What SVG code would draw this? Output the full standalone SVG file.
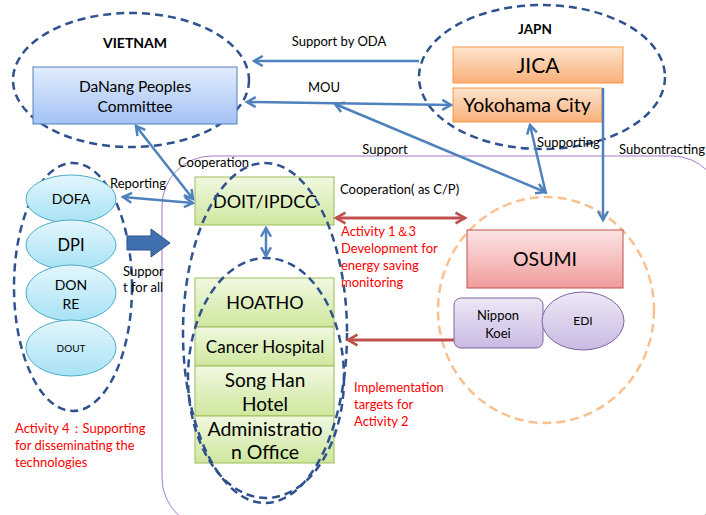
<svg xmlns="http://www.w3.org/2000/svg" width="706" height="515" viewBox="0 0 706 515">
<defs>
<style>
text{font-family:Lato,"Liberation Sans",sans-serif;fill:#000}
.blk{font-size:13px}
.red{font-size:13px;fill:#FF0000}
.grp{fill:none;stroke:#2F528F;stroke-width:2.5;stroke-dasharray:8 5}
.ba{fill:none;stroke:#4F81BD;stroke-width:2.5}
.ra{fill:none;stroke:#C0504D;stroke-width:3}
.green{fill:url(#gG);stroke:#9BBB59;stroke-width:1}
.lb{fill:url(#gL);stroke:#4BACC6;stroke-width:1}
</style>
<linearGradient id="gB" x1="0" y1="0" x2="0" y2="1"><stop offset="0" stop-color="#E2ECFC"/><stop offset="1" stop-color="#A3C2F5"/></linearGradient>
<linearGradient id="gO" x1="0" y1="0" x2="0" y2="1"><stop offset="0" stop-color="#FDE4CE"/><stop offset="1" stop-color="#F9B07A"/></linearGradient>
<linearGradient id="gG" x1="0" y1="0" x2="0" y2="1"><stop offset="0" stop-color="#F0F8E0"/><stop offset="1" stop-color="#CEE79E"/></linearGradient>
<linearGradient id="gL" x1="0" y1="0" x2="0" y2="1"><stop offset="0" stop-color="#E3F6FC"/><stop offset="1" stop-color="#A7E2F5"/></linearGradient>
<linearGradient id="gR" x1="0" y1="0" x2="0" y2="1"><stop offset="0" stop-color="#FCE4E4"/><stop offset="1" stop-color="#F09C9C"/></linearGradient>
<linearGradient id="gP" x1="0" y1="0" x2="0" y2="1"><stop offset="0" stop-color="#EEE8F6"/><stop offset="1" stop-color="#C9BAE2"/></linearGradient>
<marker id="ab" viewBox="0 0 10 10" refX="8" refY="5" markerWidth="5" markerHeight="5" orient="auto-start-reverse"><path d="M1,1 L8,5 L1,9" fill="none" stroke="#4F81BD" stroke-width="2"/></marker>
<marker id="ar" viewBox="0 0 10 10" refX="8" refY="5" markerWidth="4.5" markerHeight="4.5" orient="auto-start-reverse"><path d="M1,1 L8,5 L1,9" fill="none" stroke="#C0504D" stroke-width="2"/></marker>
</defs>

<!-- background region -->
<rect x="162" y="156" width="560" height="372" rx="50" ry="50" fill="none" stroke="#A77BCA" stroke-width="1"/>

<g id="vietnam">
<ellipse class="grp" cx="131" cy="80" rx="118" ry="67"/>
<text x="135" y="48" font-size="14" font-weight="bold" text-anchor="middle">VIETNAM</text>
</g>
<g id="danang">
<rect x="33" y="67" width="204" height="57" fill="url(#gB)" stroke="#4F81BD"/>
<text x="135" y="92" font-size="15.5" text-anchor="middle">DaNang Peoples</text>
<text x="135" y="112" font-size="15.5" text-anchor="middle">Committee</text>
</g>
<g id="japan">
<ellipse class="grp" cx="542" cy="77" rx="123" ry="72"/>
<text x="535" y="34" font-size="13.5" font-weight="bold" text-anchor="middle">JAPN</text>
</g>
<g id="jica">
<rect x="453" y="47" width="170" height="36" fill="url(#gO)" stroke="#F79646"/>
<text x="538" y="73" font-size="21" text-anchor="middle">JICA</text>
</g>
<g id="yokohama">
<rect x="453" y="88" width="149" height="34" fill="url(#gO)" stroke="#F79646"/>
<text x="527" y="112" font-size="19.5" text-anchor="middle">Yokohama City</text>
</g>

<g id="local-group">
<ellipse class="grp" cx="73" cy="287" rx="59" ry="124"/>
</g>
<g id="dofa"><ellipse class="lb" cx="71" cy="199" rx="45" ry="24"/><text x="71" y="204" font-size="14" text-anchor="middle">DOFA</text></g>
<g id="dpi"><ellipse class="lb" cx="71" cy="245" rx="45" ry="25"/><text x="71" y="251" font-size="16.5" text-anchor="middle">DPI</text></g>
<g id="donre"><ellipse class="lb" cx="71" cy="293" rx="45" ry="28"/><text x="71" y="290" font-size="14" text-anchor="middle">DON</text><text x="71" y="309" font-size="14" text-anchor="middle">RE</text></g>
<g id="dout"><ellipse class="lb" cx="71" cy="348" rx="45" ry="28"/><text x="71" y="352" font-size="10" text-anchor="middle">DOUT</text></g>

<g id="doit">
<rect class="green" x="195" y="177" width="139" height="48"/>
<text x="265" y="208" font-size="18" text-anchor="middle">DOIT/IPDCC</text>
</g>
<g id="hoatho">
<rect class="green" x="195" y="278" width="139" height="49"/>
<text x="265" y="309" font-size="18" text-anchor="middle">HOATHO</text>
</g>
<g id="cancer">
<rect class="green" x="195" y="327" width="139" height="39"/>
<text x="265" y="353" font-size="17" text-anchor="middle">Cancer Hospital</text>
</g>
<g id="songhan">
<rect class="green" x="195" y="366" width="139" height="50"/>
<text x="265" y="387" font-size="19" text-anchor="middle">Song Han</text>
<text x="265" y="411" font-size="19" text-anchor="middle">Hotel</text>
</g>
<g id="admin">
<rect class="green" x="195" y="416" width="139" height="47"/>
<text x="265" y="436" font-size="19.5" text-anchor="middle">Administratio</text>
<text x="265" y="459" font-size="19.5" text-anchor="middle">n Office</text>
</g>
<g id="doit-group"><ellipse class="grp" cx="265" cy="333" rx="82" ry="170"/></g>
<g id="target-group"><ellipse class="grp" cx="266" cy="378" rx="78" ry="120"/></g>

<g id="osumi-group"><ellipse cx="546" cy="310" rx="108" ry="113" fill="none" stroke="#FAC090" stroke-width="2.5" stroke-dasharray="9 5"/></g>
<g id="osumi">
<rect x="467" y="230" width="156" height="58" fill="url(#gR)" stroke="#C0504D"/>
<text x="545" y="266" font-size="19.5" text-anchor="middle">OSUMI</text>
</g>
<g id="nippon">
<rect x="454" y="298" width="89" height="50" rx="7" fill="url(#gP)" stroke="#8064A2"/>
<text x="498" y="320" font-size="13" text-anchor="middle">Nippon</text>
<text x="498" y="338" font-size="13" text-anchor="middle">Koei</text>
</g>
<g id="edi">
<ellipse cx="583" cy="321" rx="41" ry="29" fill="url(#gP)" stroke="#8064A2"/>
<text x="583" y="325" font-size="12" text-anchor="middle">EDI</text>
</g>

<g id="connectors">
<line class="ba" x1="419" y1="61" x2="254" y2="61" marker-end="url(#ab)"/>
<line class="ba" x1="247" y1="102" x2="451" y2="105" marker-start="url(#ab)" marker-end="url(#ab)"/>
<line class="ba" x1="335" y1="104" x2="545" y2="192" marker-start="url(#ab)" marker-end="url(#ab)"/>
<line class="ba" x1="546" y1="194" x2="530" y2="125" marker-end="url(#ab)"/>
<line class="ba" x1="603" y1="88" x2="603" y2="220" marker-end="url(#ab)"/>
<line class="ba" x1="136" y1="126" x2="193" y2="199" marker-start="url(#ab)" marker-end="url(#ab)"/>
<line class="ba" x1="123" y1="197" x2="193" y2="203" marker-start="url(#ab)" marker-end="url(#ab)"/>
<line class="ba" x1="266" y1="228" x2="266" y2="256" marker-start="url(#ab)" marker-end="url(#ab)"/>
<path d="M127,236 L151,236 L151,229 L170,243 L151,257 L151,250 L127,250 Z" fill="#3F6FAF" stroke="#2F528F" stroke-width="1"/>
<line class="ra" x1="336" y1="218" x2="465" y2="218" marker-start="url(#ar)" marker-end="url(#ar)"/>
<line class="ra" x1="454" y1="340" x2="348" y2="340" marker-end="url(#ar)"/>
</g>

<g id="labels">
<text class="blk" x="339" y="46" text-anchor="middle">Support by ODA</text>
<text class="blk" x="324" y="92" text-anchor="middle">MOU</text>
<text class="blk" x="385" y="154" text-anchor="middle">Support</text>
<text class="blk" x="537" y="147">Supporting</text>
<text class="blk" x="619" y="154">Subcontracting</text>
<text class="blk" x="178" y="167">Cooperation</text>
<text class="blk" x="110" y="188">Reporting</text>
<text class="blk" x="123" y="276">Suppor</text>
<text class="blk" x="123" y="292">t for all</text>
<text class="blk" x="340" y="194">Cooperation( as C/P)</text>
<text class="red" x="341" y="236">Activity 1＆3</text>
<text class="red" x="341" y="253">Development for</text>
<text class="red" x="341" y="270">energy saving</text>
<text class="red" x="341" y="287">monitoring</text>
<text class="red" x="354" y="392">Implementation</text>
<text class="red" x="354" y="409">targets for</text>
<text class="red" x="354" y="426">Activity 2</text>
<text class="red" x="15" y="433">Activity 4：Supporting</text>
<text class="red" x="15" y="450">for disseminating  the</text>
<text class="red" x="15" y="467">technologies</text>
</g>
</svg>
